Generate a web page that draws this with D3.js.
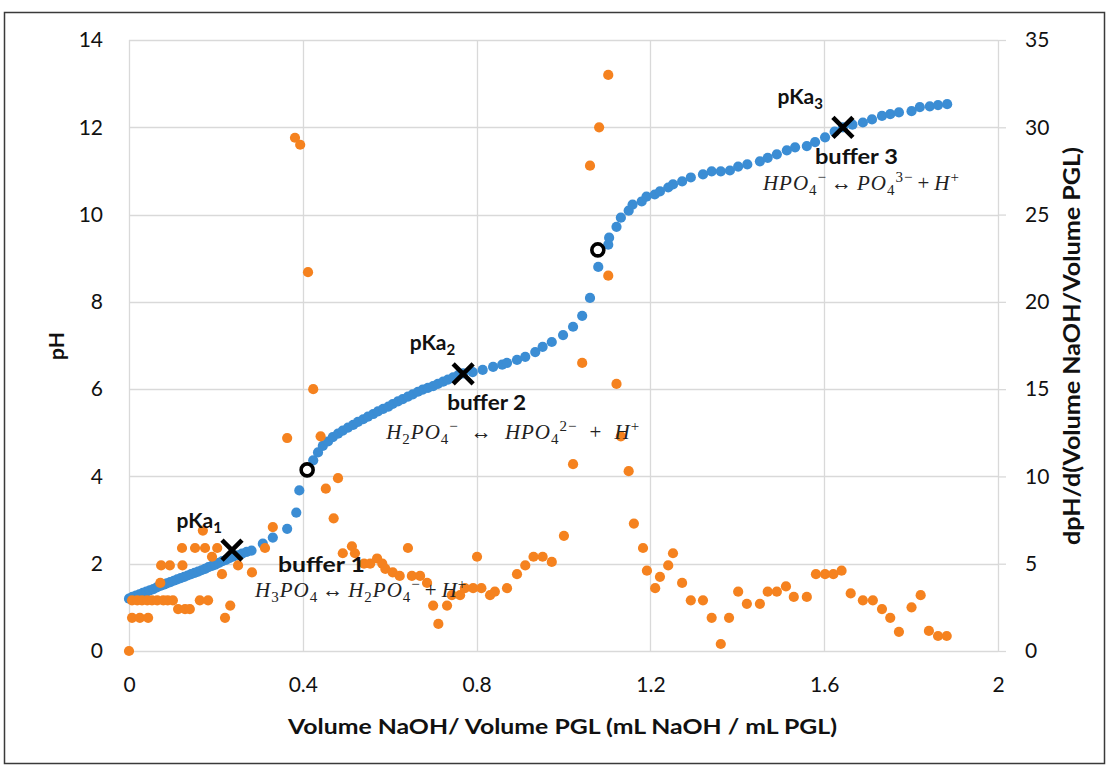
<!DOCTYPE html>
<html>
<head>
<meta charset="utf-8">
<script src="https://cdn.jsdelivr.net/npm/d3@7"></script>
<style>
  html, body { margin: 0; padding: 0; background: #fff; }
  svg { display: block; }
</style>
</head>
<body>
<svg id="chart" width="1108" height="766"></svg>
<script>
// Titration curve: pH against added base volume ratio
const phVolume = [
  0.000, 0.008, 0.016, 0.024, 0.032, 0.040, 0.048, 0.056, 0.064, 0.072,
  0.080, 0.087, 0.095, 0.103, 0.111, 0.119, 0.127, 0.135, 0.143, 0.151,
  0.159, 0.167, 0.175, 0.183, 0.191, 0.199, 0.207, 0.215, 0.223, 0.231,
  0.239, 0.249, 0.260, 0.271, 0.282,
  0.308, 0.331, 0.364, 0.385, 0.392, 0.408,
  0.424, 0.435, 0.446, 0.458, 0.469, 0.481, 0.492, 0.504, 0.516, 0.527,
  0.539, 0.550, 0.562, 0.573, 0.585, 0.597, 0.607, 0.619, 0.630, 0.642,
  0.653, 0.665, 0.676, 0.688, 0.700, 0.711, 0.723, 0.734, 0.746, 0.758, 0.769,
  0.791, 0.814, 0.838, 0.859, 0.870, 0.893, 0.912, 0.935, 0.952, 0.973,
  0.999, 1.022, 1.043, 1.061,
  1.080, 1.081, 1.103, 1.105,
  1.122, 1.132, 1.150, 1.159, 1.180, 1.191, 1.210, 1.222, 1.241, 1.252,
  1.273, 1.293, 1.321, 1.341, 1.362, 1.383, 1.402, 1.423, 1.452, 1.470,
  1.491, 1.514, 1.533, 1.560, 1.579, 1.602, 1.624, 1.643, 1.665, 1.689,
  1.710, 1.733, 1.752, 1.772, 1.801, 1.820, 1.843, 1.862, 1.883
];
const phValues = [
  1.20, 1.24, 1.27, 1.30, 1.33, 1.36, 1.39, 1.42, 1.46, 1.49,
  1.52, 1.55, 1.58, 1.61, 1.64, 1.67, 1.70, 1.73, 1.76, 1.79,
  1.82, 1.85, 1.88, 1.92, 1.95, 1.98, 2.02, 2.06, 2.09, 2.13,
  2.16, 2.19, 2.23, 2.27, 2.30,
  2.46, 2.60, 2.80, 3.17, 3.68, 4.10,
  4.37, 4.55, 4.70, 4.80, 4.90, 4.98, 5.05, 5.12, 5.18, 5.25,
  5.31, 5.37, 5.43, 5.49, 5.55, 5.60, 5.66, 5.72, 5.77, 5.83,
  5.88, 5.94, 5.99, 6.03, 6.07, 6.12, 6.17, 6.22, 6.27, 6.32, 6.36,
  6.39, 6.44, 6.51, 6.56, 6.60, 6.67, 6.74, 6.85, 6.97, 7.08,
  7.24, 7.43, 7.68, 8.09,
  8.80, 9.20, 9.31, 9.47,
  9.72, 9.93, 10.09, 10.23, 10.30, 10.41, 10.46, 10.53, 10.62, 10.69,
  10.76, 10.85, 10.92, 10.99, 10.99, 11.01, 11.10, 11.15, 11.22, 11.30,
  11.38, 11.47, 11.54, 11.57, 11.66, 11.77, 11.90, 12.00, 12.06, 12.11,
  12.18, 12.26, 12.30, 12.34, 12.37, 12.46, 12.48, 12.51, 12.53
];

// First derivative of the curve (right axis)
const derivVolume = [
  0.000, 0.007, 0.007, 0.019, 0.025, 0.030, 0.042, 0.044, 0.053, 0.065,
  0.072, 0.074, 0.079, 0.089, 0.094, 0.101, 0.113, 0.122, 0.123, 0.129,
  0.140, 0.152, 0.163, 0.170, 0.175, 0.182, 0.191, 0.203, 0.214, 0.221,
  0.233, 0.251, 0.283, 0.313, 0.331, 0.364, 0.382, 0.394, 0.412, 0.424,
  0.441, 0.453, 0.471, 0.481, 0.492, 0.513, 0.520, 0.541, 0.555, 0.571,
  0.583, 0.590, 0.607, 0.623, 0.642, 0.651, 0.670, 0.686, 0.700, 0.712,
  0.732, 0.743, 0.762, 0.773, 0.792, 0.801, 0.811, 0.831, 0.842, 0.870,
  0.893, 0.912, 0.931, 0.952, 0.973, 1.001, 1.022, 1.043, 1.061, 1.082,
  1.103, 1.103, 1.122, 1.132, 1.150, 1.162, 1.183, 1.192, 1.211, 1.222,
  1.241, 1.252, 1.273, 1.293, 1.321, 1.341, 1.362, 1.381, 1.402, 1.422,
  1.452, 1.470, 1.491, 1.512, 1.530, 1.560, 1.581, 1.602, 1.621, 1.640,
  1.661, 1.689, 1.712, 1.733, 1.752, 1.772, 1.801, 1.822, 1.841, 1.862,
  1.882
];
const derivValues = [
  0.0, 2.9, 1.9, 2.9, 1.9, 2.9, 2.9, 1.9, 2.9, 2.9,
  3.9, 4.9, 2.9, 2.9, 4.9, 2.9, 2.4, 5.9, 4.9, 2.4,
  2.4, 5.9, 2.9, 6.9, 5.9, 2.9, 5.4, 5.9, 4.4, 1.9,
  2.6, 4.9, 4.5, 5.9, 7.1, 12.2, 29.4, 29.0, 21.7, 15.0,
  12.3, 9.3, 7.6, 9.9, 5.6, 6.0, 5.6, 5.0, 5.0, 5.3,
  5.0, 4.7, 4.5, 4.3, 5.9, 4.3, 4.3, 3.9, 2.6, 1.55,
  2.6, 3.2, 3.2, 3.6, 3.6, 5.4, 3.6, 3.2, 3.4, 3.6,
  4.4, 4.9, 5.4, 5.4, 5.1, 6.6, 10.7, 16.5, 27.8, 30.0,
  33.0, 21.5, 15.3, 12.3, 10.3, 7.3, 5.9, 4.6, 3.6, 4.25,
  4.9, 5.6, 3.9, 2.9, 2.9, 1.9, 0.4, 1.9, 3.4, 2.7,
  2.7, 3.4, 3.4, 3.7, 3.1, 3.1, 4.4, 4.4, 4.4, 4.6,
  3.3, 2.9, 2.9, 2.4, 1.9, 1.1, 2.5, 3.2, 1.15, 0.86,
  0.86
];

const xTicks = [0, 0.4, 0.8, 1.2, 1.6, 2];
const phTicks = [0, 2, 4, 6, 8, 10, 12, 14];
const derivTicks = [0, 5, 10, 15, 20, 25, 30, 35];

// pKa points (crosses) and equivalence points (rings)
const pKaVolume = [0.237, 0.769, 1.643];
const pKaPH = [2.31, 6.35, 12.0];
const pKaIndex = ["1", "2", "3"];
const bufferNames = ["buffer 1", "buffer 2", "buffer 3"];
const equivVolume = [0.410, 1.079];
const equivPH = [4.15, 9.19];

// Dissociation equilibria; each piece is [text, role]
const equations = [
  [["H", "i"], ["3", "sub"], ["PO", "i"], ["4", "sub"], ["\u2194", "op"], ["H", "i"], ["2", "sub"],
   ["PO", "i"], ["4", "sub"], ["\u2212", "sup"], ["+", "op"], ["H", "i"], ["+", "sup"]],
  [["H", "i"], ["2", "sub"], ["PO", "i"], ["4", "sub"], ["\u2212", "sup"], ["\u2194", "op"], ["HPO", "i"],
   ["4", "sub"], ["2\u2212", "sup"], ["+", "op"], ["H", "i"], ["+", "sup"]],
  [["HPO", "i"], ["4", "sub"], ["\u2212", "sup"], ["\u2194", "op"], ["PO", "i"], ["4", "sub"],
   ["3\u2212", "sup"], ["+", "op"], ["H", "i"], ["+", "sup"]]
];

const W = 1108, H = 766;
const plot = { left: 129, right: 998, top: 40, bottom: 651 };
const sans = "Lato, 'Open Sans', 'Liberation Sans', sans-serif";
const serif = "'Liberation Serif', 'DejaVu Serif', serif";
const blue = "#3b8dd4";
const orange = "#f5821f";
const gridColor = "#d9d9d9";
const dotR = 5.1;

const svg = d3.select("#chart");

svg.append("rect").attr("width", W).attr("height", H).attr("fill", "#fff");
// outer frame
svg.append("rect")
  .attr("x", 4.5).attr("y", 12.5).attr("width", 1100).attr("height", 751)
  .attr("fill", "none").attr("stroke", "#3a3a3a").attr("stroke-width", 1.5);

const x = d3.scaleLinear().domain([0, 2]).range([plot.left, plot.right]);
const yL = d3.scaleLinear().domain([0, 14]).range([plot.bottom, plot.top]);
const yR = d3.scaleLinear().domain([0, 35]).range([plot.bottom, plot.top]);

// gridlines
const grid = svg.append("g").attr("class", "grid");
grid.selectAll("line.h").data(phTicks).join("line")
  .attr("x1", plot.left).attr("x2", plot.right)
  .attr("y1", d => Math.round(yL(d)) + 0.5).attr("y2", d => Math.round(yL(d)) + 0.5)
  .attr("stroke", gridColor).attr("stroke-width", 1.3);
grid.selectAll("line.v").data(xTicks).join("line")
  .attr("y1", plot.top).attr("y2", plot.bottom)
  .attr("x1", d => Math.round(x(d)) + 0.5).attr("x2", d => Math.round(x(d)) + 0.5)
  .attr("stroke", gridColor).attr("stroke-width", 1.3);

// axes
const tickFont = g => g.selectAll("text")
  .attr("font-family", sans).attr("font-size", 21).attr("fill", "#111");

const axL = svg.append("g").attr("transform", `translate(${plot.left},0)`)
  .call(d3.axisLeft(yL).tickValues(phTicks).tickSize(0).tickPadding(26).tickFormat(d3.format("d")));
axL.select(".domain").remove();
axL.call(tickFont);

const axR = svg.append("g").attr("transform", `translate(${plot.right},0)`)
  .call(d3.axisRight(yR).tickValues(derivTicks).tickSizeInner(8).tickSizeOuter(0).tickPadding(19).tickFormat(d3.format("d")));
axR.select(".domain").remove();
axR.selectAll(".tick line").attr("stroke", gridColor).attr("stroke-width", 1.3);
axR.call(tickFont);

const axB = svg.append("g").attr("transform", `translate(0,${plot.bottom})`)
  .call(d3.axisBottom(x).tickValues(xTicks).tickSize(0).tickPadding(26).tickFormat(d => d3.format("")(d)));
axB.select(".domain").remove();
axB.call(tickFont);

// axis titles
svg.append("text")
  .attr("x", (plot.left + plot.right) / 2 - 1).attr("y", 734)
  .attr("text-anchor", "middle").attr("font-family", sans).attr("font-weight", 700)
  .attr("font-size", 21).attr("fill", "#111")
  .attr("textLength", 549).attr("lengthAdjust", "spacingAndGlyphs")
  .text("Volume NaOH/ Volume PGL (mL NaOH / mL PGL)");

svg.append("text")
  .attr("transform", "translate(64,346) rotate(-90)")
  .attr("text-anchor", "middle").attr("font-family", sans).attr("font-weight", 700)
  .attr("font-size", 21).attr("fill", "#111")
  .text("pH");

svg.append("text")
  .attr("transform", "translate(1080,346) rotate(-90)")
  .attr("text-anchor", "middle").attr("font-family", sans).attr("font-weight", 700)
  .attr("font-size", 22).attr("fill", "#111")
  .attr("textLength", 398).attr("lengthAdjust", "spacingAndGlyphs")
  .text("dpH/d(Volume NaOH/Volume PGL)");

// series
const phPoints = d3.zip(phVolume, phValues);
const derivPoints = d3.zip(derivVolume, derivValues);

svg.append("g").selectAll("circle").data(phPoints).join("circle")
  .attr("cx", d => x(d[0])).attr("cy", d => yL(d[1])).attr("r", dotR)
  .attr("fill", blue);

svg.append("g").selectAll("circle").data(derivPoints).join("circle")
  .attr("cx", d => x(d[0])).attr("cy", d => yR(d[1])).attr("r", dotR)
  .attr("fill", orange);

// equivalence rings
svg.append("g").selectAll("circle").data(d3.zip(equivVolume, equivPH)).join("circle")
  .attr("cx", d => x(d[0])).attr("cy", d => yL(d[1])).attr("r", 6)
  .attr("fill", "#fff").attr("stroke", "#000").attr("stroke-width", 3.6);

// pKa crosses
const cross = 10;
const pKaG = svg.append("g").selectAll("g").data(d3.zip(pKaVolume, pKaPH)).join("g")
  .attr("transform", d => `translate(${x(d[0])},${yL(d[1])})`);
pKaG.append("path")
  .attr("d", `M${-cross},${-cross}L${cross},${cross}M${-cross},${cross}L${cross},${-cross}`)
  .attr("stroke", "#000").attr("stroke-width", 4.6).attr("fill", "none");

// label offsets relative to each cross
const pKaLabelOffset = [[-10, -22], [-8, -24], [-20, -23]];
const bufferLabelOffset = [[46, 22], [-16, 36], [-28, 37]];
const bufferWidth = [87, 79, 83];
const eqOffset = [[23, 47], [-77, 65], [-80, 63]];
const eqWidth = [207, 254, 195];

pKaG.each(function (d, i) {
  const g = d3.select(this);
  const t = g.append("text")
    .attr("x", pKaLabelOffset[i][0]).attr("y", pKaLabelOffset[i][1])
    .attr("text-anchor", "end").attr("font-family", sans).attr("font-weight", 700)
    .attr("font-size", 21).attr("fill", "#111");
  t.append("tspan").text("pKa");
  t.append("tspan").attr("dy", 5).attr("font-size", 15).text(pKaIndex[i]);

  g.append("text")
    .attr("x", bufferLabelOffset[i][0]).attr("y", bufferLabelOffset[i][1])
    .attr("font-family", sans).attr("font-weight", 700)
    .attr("font-size", 21).attr("fill", "#111")
    .attr("textLength", bufferWidth[i]).attr("lengthAdjust", "spacingAndGlyphs")
    .text(bufferNames[i]);

  const e = g.append("text")
    .attr("x", eqOffset[i][0]).attr("y", eqOffset[i][1])
    .attr("font-family", serif).attr("font-size", 21).attr("fill", "#222")
    .attr("letter-spacing", 1);
  let shift = 0;
  const ops = [];
  equations[i].forEach(([txt, role], k) => {
    const target = role === "sub" ? 5 : role === "sup" ? -8 : 0;
    const sp = e.append("tspan").attr("dy", target - shift).text(txt);
    shift = target;
    if (role === "i") sp.attr("font-style", "italic");
    if (role === "sub" || role === "sup") sp.attr("font-size", 15);
    if (role === "op") ops.push(k);
  });
  // open up the space around the operators so the line fills its width
  const natural = e.node().getComputedTextLength();
  const gap = Math.max(4, (eqWidth[i] - natural) / (2 * ops.length));
  const spans = e.selectAll("tspan").nodes();
  ops.forEach(k => {
    d3.select(spans[k]).attr("dx", gap);
    if (spans[k + 1]) d3.select(spans[k + 1]).attr("dx", gap);
  });
});
</script>
</body>
</html>
